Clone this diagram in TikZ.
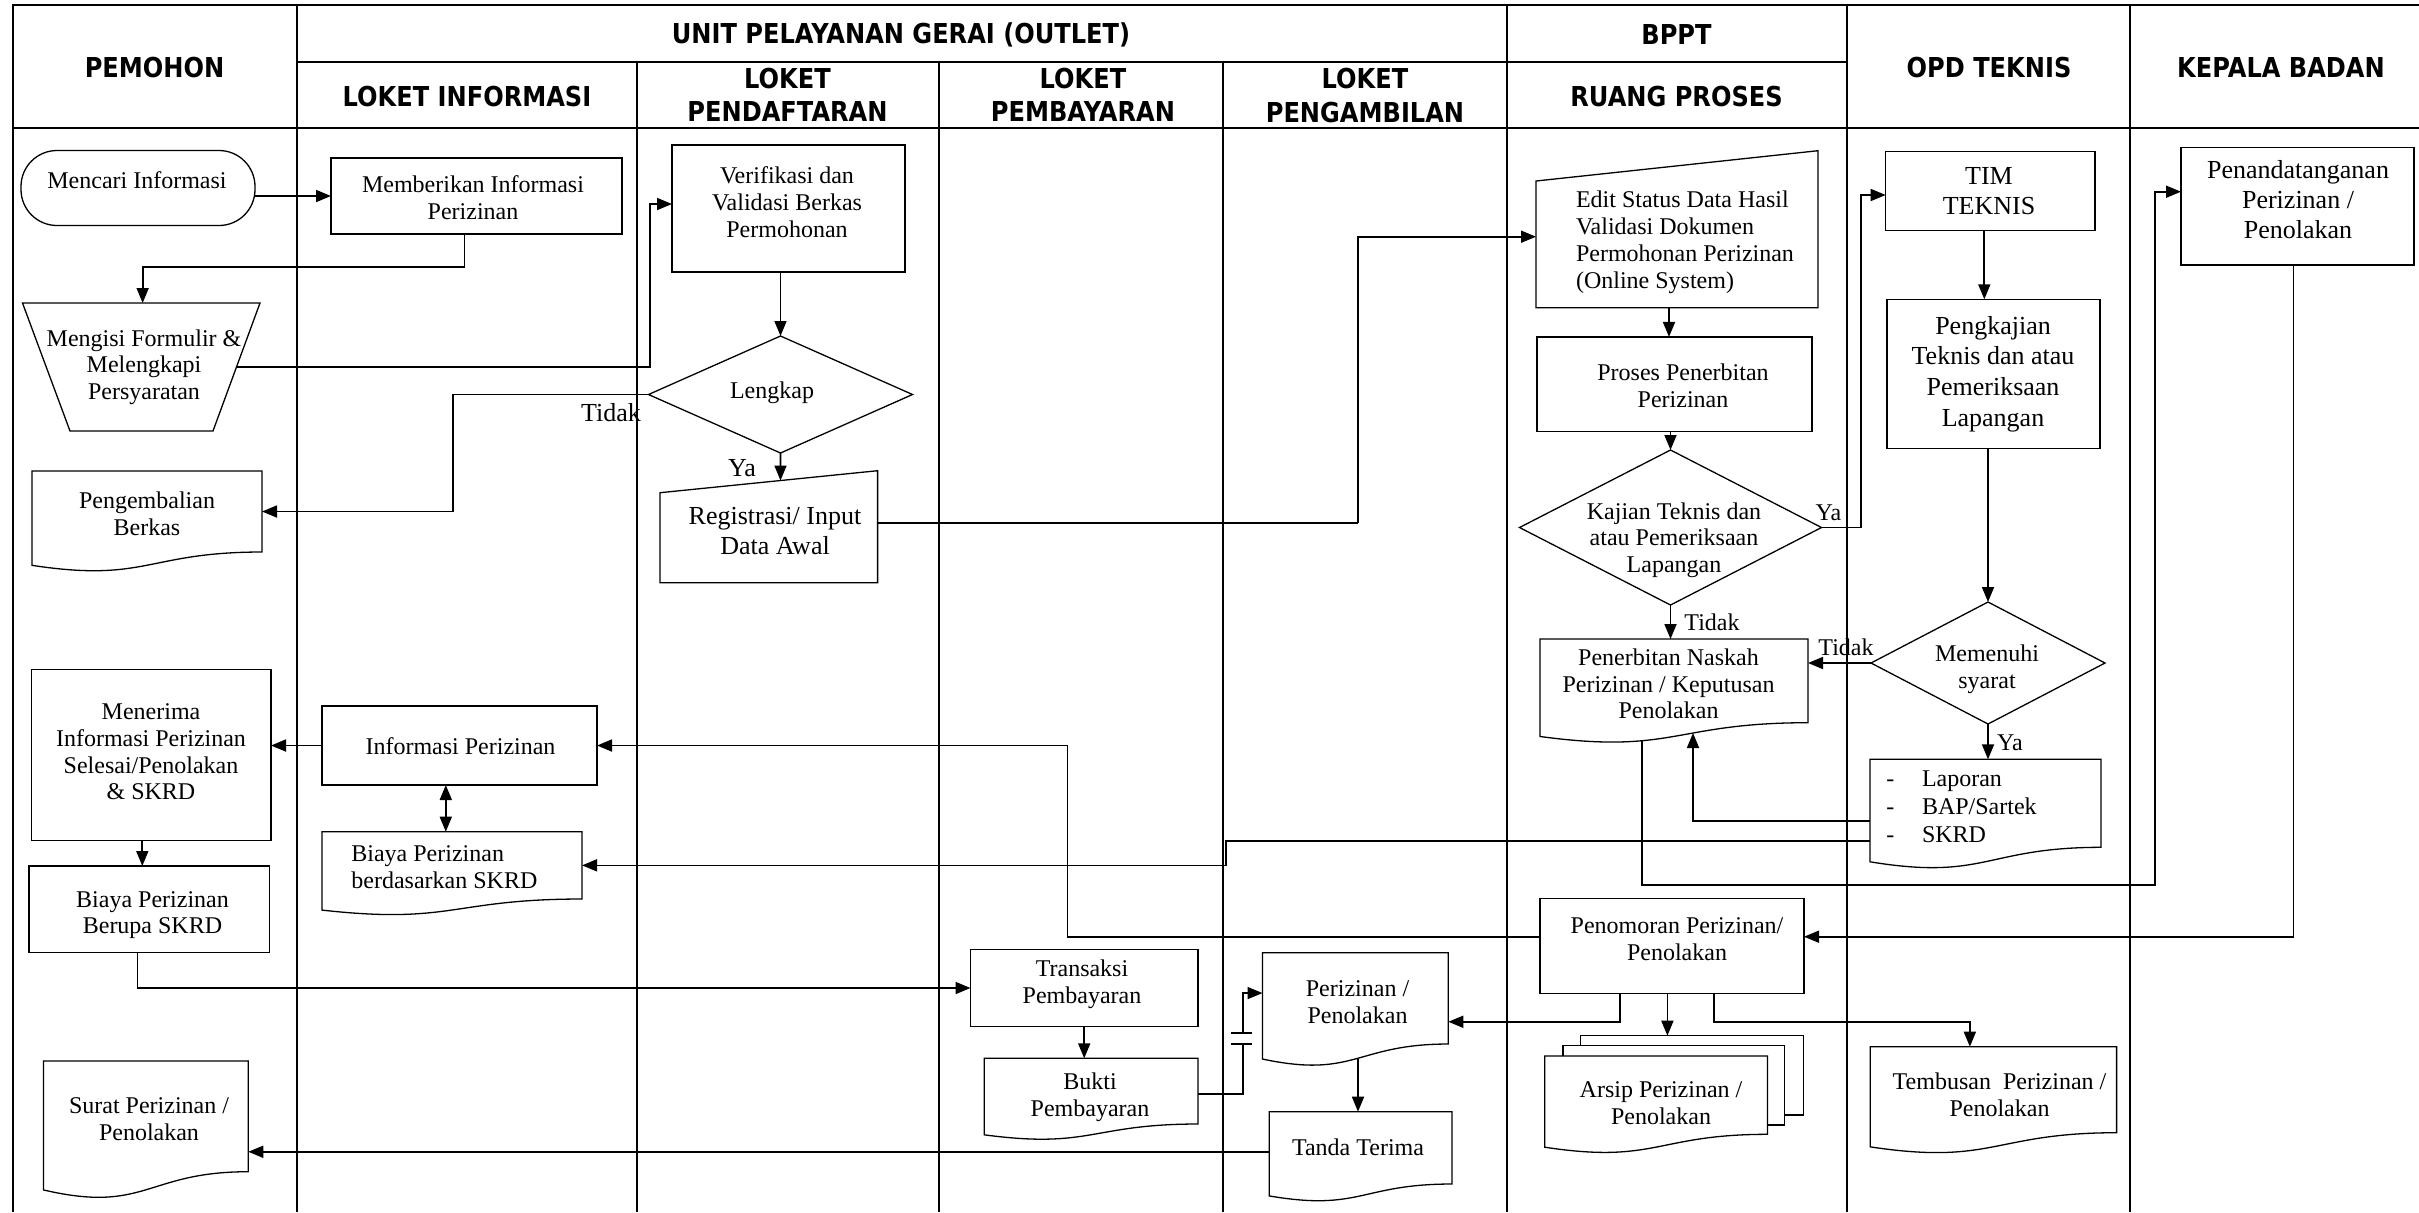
\documentclass[tikz,border=0pt]{standalone}
\usepackage{fontspec}
\setmainfont{Liberation Serif}
\newfontfamily\hfont{DejaVu Sans}[FakeStretch=0.88]
\usetikzlibrary{arrows.meta,calc}
\tikzset{
 grid/.style={line width=1.05pt},
 shp/.style={line width=0.65pt, line join=miter},
 conn/.style={line width=0.85pt},
 arr/.style={conn, -{Triangle[length=7.5pt,width=6pt]}},
 dblarr/.style={conn, {Triangle[length=7.5pt,width=6pt]}-{Triangle[length=7.5pt,width=6pt]}},
 hdr/.style={font=\hfont\bfseries\fontsize{13.7}{16.7}\selectfont, inner sep=0pt, align=center},
 txt/.style={font=\fontsize{12}{13.35}\selectfont, inner sep=0pt, align=center},
 big/.style={font=\fontsize{13}{15}\selectfont, inner sep=0pt, align=center},
 box/.style={draw, shp, inner sep=0pt, outer sep=0pt},
 blank/.style={inner sep=0pt, outer sep=0pt},
}
\newcommand\docpath[2]{\draw[shp] (#1.south east) -- (#1.north east) -- (#1.north west) -- ($(#1.south west)+(0,{0.1646*#2})$) .. controls ($(#1.south)+(0,{0.381*#2})$) and (#1.south) .. (#1.south east) -- cycle;}
\newcommand\maninpath[2]{\draw[shp] (#1.south west) -- (#1.south east) -- (#1.north east) -- ($(#1.north west)+(0,#2)$) -- cycle;}
\newcommand\diampath[1]{\draw[shp] (#1.north) -- (#1.east) -- (#1.south) -- (#1.west) -- cycle;}
\begin{document}
\begin{tikzpicture}[x=0.5pt,y=-0.5pt]
\useasboundingbox (0,0) rectangle (2419,1212);
% ---------- grid ----------
\draw[grid] (13,1212) -- (13,5) -- (2419,5);
\draw[grid] (13,128) -- (2419,128);
\draw[grid] (297,62) -- (1847,62);
\foreach \x in {297,1507,1847,2130} \draw[grid] (\x,5) -- (\x,1212);
\foreach \x in {637,939,1223} \draw[grid] (\x,62) -- (\x,1212);
% ---------- headers ----------
\node[hdr, anchor=base] (hPem) at (154.5,77.3) {PEMOHON};
\node[hdr, anchor=base] (hUnit) at (901,43.3) {UNIT PELAYANAN GERAI (OUTLET)};
\node[hdr, anchor=base] (hBppt) at (1676.5,44) {BPPT};
\node[hdr, anchor=base] (hInfo) at (467,106) {LOKET INFORMASI};
\node[hdr] (hDaftar) at (787.5,95) {LOKET\\PENDAFTARAN};
\node[hdr] (hBayar) at (1083,95) {LOKET\\PEMBAYARAN};
\node[hdr] (hAmbil) at (1365,95.5) {LOKET\\PENGAMBILAN};
\node[hdr, anchor=base] (hRuang) at (1676.5,106) {RUANG PROSES};
\node[hdr, anchor=base] (hOpd) at (1989,77.3) {OPD TEKNIS};
\node[hdr, anchor=base] (hKep) at (2281,77.3) {KEPALA BADAN};
% ---------- shapes ----------
\node[box, rounded corners=18pt, minimum width=117pt, minimum height=37.5pt] (mencari) at (138,188) {};
\node[box, minimum width=145.5pt, minimum height=38pt] (memb) at (476.5,196) {};
\node[blank, minimum width=118.75pt, minimum height=64pt] (mengisi) at (141.25,367) {};
\draw[shp] (mengisi.north west) -- (mengisi.north east) -- ($(mengisi.south east)+(-47,0)$) -- ($(mengisi.south west)+(47.5,0)$) -- cycle;
\node[box, minimum width=116.5pt, minimum height=63.5pt] (verif) at (788.5,208.5) {};
\node[blank, minimum width=132pt, minimum height=58.5pt] (lengkap) at (780.5,394.5) {};
\diampath{lengkap}
\node[blank, minimum width=115pt, minimum height=40.5pt] (peng) at (147,511.5) {};
\docpath{peng}{81}
\node[blank, minimum width=108.8pt, minimum height=56pt] (reg) at (768.8,526.7) {};
\maninpath{reg}{22}
\node[blank, minimum width=141pt, minimum height=78.5pt] (edit) at (1677,229.2) {};
\maninpath{edit}{30.3}
\node[box, minimum width=137.5pt, minimum height=47.35pt] (proses) at (1674.5,384.3) {};
\node[blank, minimum width=151pt, minimum height=77.5pt] (kajian) at (1670.5,527.5) {};
\diampath{kajian}
\node[blank, minimum width=134pt, minimum height=41.85pt] (penerbitan) at (1674,680.85) {};
\docpath{penerbitan}{83.7}
\node[box, minimum width=104.65pt, minimum height=39.5pt] (tim) at (1990.3,191.2) {};
\node[box, minimum width=106.5pt, minimum height=74.5pt] (pengkajian) at (1993.5,373.8) {};
\node[blank, minimum width=117pt, minimum height=61pt] (memenuhi) at (1988,663) {};
\diampath{memenuhi}
\node[blank, minimum width=115.5pt, minimum height=44pt] (laporan) at (1985.5,803.3) {};
\docpath{laporan}{88}
\node[box, minimum width=116.5pt, minimum height=58.85pt] (penanda) at (2297.5,206.2) {};
\node[box, minimum width=132pt, minimum height=47.5pt] (penomoran) at (1672,945.8) {};
\node[box, minimum width=137.5pt, minimum height=39.5pt] (info) at (459.5,745.5) {};
\node[box, minimum width=119.7pt, minimum height=85.7pt] (menerima) at (151.3,755) {};
\node[box, minimum width=120.4pt, minimum height=43.15pt] (biaya1) at (149.3,909.15) {};
\node[blank, minimum width=130pt, minimum height=33.65pt] (biaya2) at (452,865.35) {};
\docpath{biaya2}{67.3}
\node[box, minimum width=113.7pt, minimum height=38.7pt] (transaksi) at (1084.2,988) {};
\node[blank, minimum width=106.8pt, minimum height=32.85pt] (bukti) at (1091.1,1091.15) {};
\docpath{bukti}{65.7}
\node[blank, minimum width=92.9pt, minimum height=45.65pt] (perizinan) at (1355.4,998.35) {};
\docpath{perizinan}{91.3}
\node[blank, minimum width=91.35pt, minimum height=36.15pt] (tanda) at (1360.55,1147.85) {};
\docpath{tanda}{72.3}
\node[blank, minimum width=102.4pt, minimum height=55.35pt] (surat) at (145.9,1116.35) {};
\docpath{surat}{110.7}
\node[blank, minimum width=111.3pt, minimum height=39.15pt] (arsip) at (1656.1,1095.15) {};
\draw[shp] ($(arsip.north west)+(18.2,0)$) -- ($(arsip.north west)+(18.2,-10.3)$) -- ($(arsip.north east)+(17,-10.3)$) -- ($(arsip.south east)+(17,-9.3)$) -- ($(arsip.south east)+(0,-9.3)$);
\draw[shp] ($(arsip.north west)+(35.6,-10.3)$) -- ($(arsip.north west)+(35.6,-20.3)$) -- ($(arsip.north east)+(36.4,-20.3)$) -- ($(arsip.south east)+(36.4,-19.3)$) -- ($(arsip.south east)+(17,-19.3)$);
\docpath{arsip}{78.3}
\coordinate (arsipTop) at ($(arsip.north)+(0,-20.3)$);
\node[blank, minimum width=123.15pt, minimum height=43pt] (tembusan) at (1993.45,1089.7) {};
\docpath{tembusan}{86}
% ---------- connectors ----------
\draw[arr] (mencari.east |- memb.west) -- (memb.west);
\draw[arr] ([xshift=-5.95pt]memb.south) -- ++(0,32.7) -| ([xshift=0.7pt]mengisi.north);
\coordinate (mengisiR) at ($(mengisi.east)+(-23.5,0)$);
\draw[arr] (mengisiR) -- ++(413.2,0) |- ([yshift=2.25pt]verif.west);
\draw[arr] (lengkap.north |- verif.south) -- (lengkap.north);
\draw[arr] (lengkap.west) -- ++(-195.5,0) |- (peng.east);
\coordinate (regTop) at ($(reg.north east)+(-97.1,9.8)$);
\draw[arr] (lengkap.south) -- (regTop);
\draw[conn] ([yshift=1.7pt]reg.east) -- ++(480.4,0) coordinate (regBend);
\draw[arr] (regBend) |- ([yshift=-3.75pt]edit.west);
\draw[arr] ([xshift=-4pt]edit.south) -- ([xshift=-4pt]edit.south |- proses.north);
\draw[arr] (kajian.north |- proses.south) -- (kajian.north);
\draw[arr] (kajian.east) -- ++(39.5,0) |- ([yshift=-1.9pt]tim.west);
\draw[arr] (kajian.south) -- (kajian.south |- penerbitan.north);
\draw[arr] ([xshift=-3pt]tim.south) -- ([xshift=-3pt]tim.south |- pengkajian.north);
\draw[arr] (memenuhi.north |- pengkajian.south) -- (memenuhi.north);
\draw[arr] (memenuhi.west) -- (memenuhi.west -| penerbitan.east);
\draw[arr] (memenuhi.south) -- (memenuhi.south |- laporan.north);
\draw[arr] ([yshift=-8.7pt]laporan.west) -| ([xshift=9.5pt,yshift=-5.15pt]penerbitan.south);
\draw[arr] ([yshift=-18.7pt]laporan.west) -- ++(-644.3,0) |- (biaya2.east);
\draw[arr] ([xshift=-16pt,yshift=-9pt]penerbitan.south) -- ++(0,144.3) -- ++(513,0) |- ([yshift=7.25pt]penanda.west);
\draw[arr] ([xshift=-2pt]penanda.south) |- ([yshift=4.55pt]penomoran.east);
\draw[arr] ([yshift=4.55pt]penomoran.west) -- ++(-472.6,0) |- (info.east);
\draw[arr] (info.west) -- (info.west -| menerima.east);
\draw[dblarr] ([xshift=-6.85pt]info.south) -- ([xshift=-6.85pt]info.south |- biaya2.north);
\draw[arr] ([xshift=-4.5pt]menerima.south) -- ([xshift=-4.5pt]menerima.south |- biaya1.north);
\draw[arr] ([xshift=-5.85pt]biaya1.south) |- (transaksi.west);
\draw[arr] (transaksi.south) -- (transaksi.south |- bukti.north);
\draw[conn] ([yshift=-1.4pt]bukti.east) -| ++(45.3,-50) coordinate (capA);
\draw[conn] ($(capA)+(-11.9,0)$) -- ($(capA)+(9.1,0)$);
\coordinate (capB) at ($(capA)+(0,-10.7)$);
\draw[conn] ($(capB)+(-11.9,0)$) -- ($(capB)+(9.1,0)$);
\draw[arr] (capB) |- ([yshift=2.65pt]perizinan.west);
\draw[arr] ([xshift=-26pt]penomoran.south) |- ([yshift=-11.7pt]perizinan.east);
\draw[arr] ([xshift=-2.3pt]penomoran.south) -- ([xshift=-2.3pt]penomoran.south |- arsipTop);
\draw[arr] ([xshift=21pt]penomoran.south) -- ++(0,28.4) -| ([xshift=-11.8pt]tembusan.north);
\draw[arr] ([xshift=1.3pt,yshift=-7.5pt]perizinan.south) -- ([xshift=1.3pt]perizinan.south |- tanda.north);
\draw[arr] ([yshift=-1.95pt]tanda.west) -- ([yshift=-1.95pt]tanda.west -| surat.east);
% ---------- texts ----------
\node[txt, anchor=base] (mencariT) at (137,188) {Mencari Informasi};
\node[txt] (membT) at (473,198) {Memberikan Informasi\\Perizinan};
\node[txt] (mengisiT) at (144,367) {Mengisi Formulir \&\\Melengkapi\\Persyaratan};
\node[txt] (verifT) at (787,202) {Verifikasi dan\\Validasi Berkas\\Permohonan};
\node[txt, anchor=base] (lengkapT) at (772,398) {Lengkap};
\node[big, anchor=base] (tidak1) at (611,421) {Tidak};
\node[big, anchor=base] (ya1) at (742,476) {Ya};
\node[txt] (pengT) at (147,513.5) {Pengembalian\\Berkas};
\node[big] (regT) at (775,531.5) {Registrasi/ Input\\Data Awal};
\node[txt, align=left, anchor=west] (editT) at (1575.6,242.3) {Edit Status Data Hasil\\Validasi Dokumen\\Permohonan Perizinan\\(Online System)};
\node[txt] (prosesT) at (1683,386) {Proses Penerbitan\\Perizinan};
\node[txt] (kajianT) at (1674,540) {Kajian Teknis dan\\atau Pemeriksaan\\Lapangan};
\node[txt, anchor=base] (ya2) at (1828.5,520) {Ya};
\node[txt, anchor=base] (tidak2) at (1712,630) {Tidak};
\node[txt] (penerbitanT) at (1668.5,684) {Penerbitan Naskah\\Perizinan / Keputusan\\Penolakan};
\node[big] (timT) at (1989,191) {TIM\\TEKNIS};
\node[big, font=\fontsize{13}{15.4}\selectfont] (pengkajianT) at (1993,374) {Pengkajian\\Teknis dan atau\\Pemeriksaan\\Lapangan};
\node[txt] (memenuhiT) at (1987,669) {Memenuhi\\syarat};
\node[txt, anchor=base] (tidak3) at (1846,655) {Tidak};
\node[txt, anchor=base] (ya3) at (2010,750) {Ya};
\node[txt, align=left, anchor=west, font=\fontsize{12}{14}\selectfont] (laporanT) at (1886,806.4) {\makebox[17.8pt][l]{-}Laporan\\\makebox[17.8pt][l]{-}BAP/Sartek\\\makebox[17.8pt][l]{-}SKRD};
\node[big] (penandaT) at (2298,199.3) {Penandatanganan\\Perizinan /\\Penolakan};
\node[txt] (penomoranT) at (1677,939) {Penomoran Perizinan/\\Penolakan};
\node[txt, anchor=base] (infoT) at (460.5,754) {Informasi Perizinan};
\node[txt] (menerimaT) at (151,752) {Menerima\\Informasi Perizinan\\Selesai/Penolakan\\\& SKRD};
\node[txt] (biaya1T) at (152.5,915) {Biaya Perizinan\\Berupa SKRD};
\node[txt, align=left, anchor=west] (biaya2T) at (351,867) {Biaya Perizinan\\berdasarkan SKRD};
\node[txt] (transaksiT) at (1082,984) {Transaksi\\Pembayaran};
\node[txt] (buktiT) at (1090,1097) {Bukti\\Pembayaran};
\node[txt] (perizinanT) at (1357.5,1002) {Perizinan /\\Penolakan};
\node[txt, anchor=base] (tandaT) at (1358,1155) {Tanda Terima};
\node[txt] (suratT) at (149,1119) {Surat Perizinan /\\Penolakan};
\node[txt] (arsipT) at (1661,1103) {Arsip Perizinan /\\Penolakan};
\node[txt] (tembusanT) at (1999.5,1095) {Tembusan\ \ Perizinan /\\Penolakan};
\end{tikzpicture}
\end{document}
